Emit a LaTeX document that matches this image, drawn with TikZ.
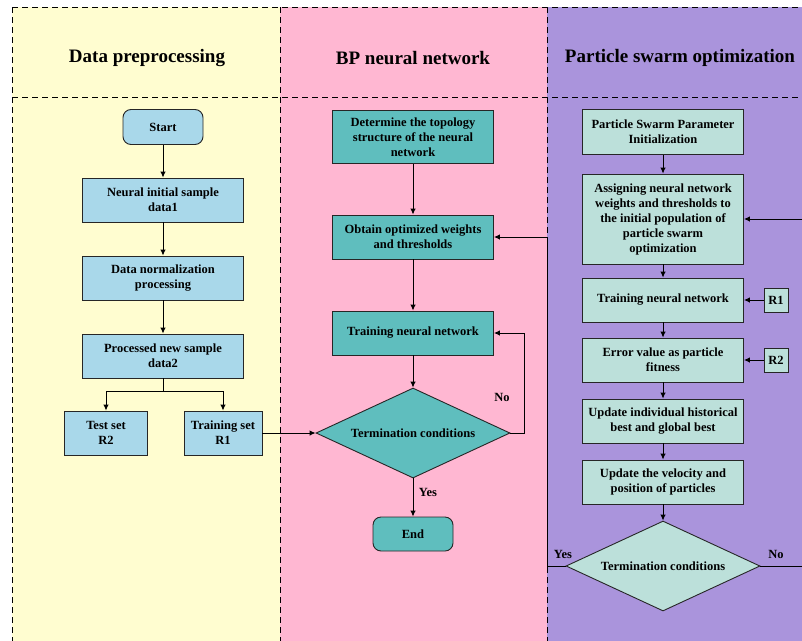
\documentclass[tikz,border=0pt]{standalone}
\usepackage{fontspec}
\setmainfont{Liberation Serif}
\usetikzlibrary{arrows.meta,shapes.geometric}
\definecolor{ybg}{HTML}{FFFDD0}
\definecolor{pbg}{HTML}{FFB7D2}
\definecolor{vbg}{HTML}{AA94DC}
\definecolor{bbox}{HTML}{A9D8EA}
\definecolor{tbox}{HTML}{5FBEBE}
\definecolor{lbox}{HTML}{BCE0DA}
\tikzset{
  lane/.style={draw=black, line width=0.9pt, dash pattern=on 6pt off 4pt},
  hdr/.style={font=\bfseries\fontsize{19}{22}\selectfont},
  fbox/.style={draw=black!85, line width=0.9pt, align=center, inner sep=0pt,
    font=\bfseries\fontsize{12.5}{15}\selectfont},
  bluebox/.style={fbox, fill=bbox},
  tealbox/.style={fbox, fill=tbox},
  ltbox/.style={fbox, fill=lbox},
  term/.style={rounded corners=8pt},
  dia/.style={fbox, diamond, aspect=2.15, minimum width=194pt, minimum height=90pt},
  lbl/.style={font=\bfseries\fontsize{12.5}{15}\selectfont, inner sep=0pt},
  arr/.style={draw=black, line width=0.9pt, -{Latex[length=6pt,width=5.5pt]}},
  ln/.style={draw=black, line width=0.9pt}
}
\begin{document}
\begin{tikzpicture}[x=1pt,y=-1pt]
\useasboundingbox (0,0) rectangle (802,640);
\clip (0,0) rectangle (802,640);
% lanes
\fill[ybg] (12,7) rectangle (280,700);
\fill[pbg] (280,7) rectangle (547,700);
\fill[vbg] (547,7) rectangle (830,700);
\draw[lane] (12,7) -- (830,7);
\draw[lane] (12,97) -- (830,97);
\draw[lane] (12,7) -- (12,700);
\draw[lane] (280,7) -- (280,700);
\draw[lane] (547,7) -- (547,700);
\node[hdr] (h1) at (147,58) {Data preprocessing};
\node[hdr] (h2) at (413,58) {BP neural network};
\node[hdr] (h3) at (680,58) {Particle swarm optimization};
% data preprocessing
\node[bluebox, term, minimum width=80pt, minimum height=35pt] (start) at (163,127) {Start};
\node[bluebox, minimum width=161pt, minimum height=44pt] (n1) at (163,200) {Neural initial sample\\data1};
\node[bluebox, minimum width=161pt, minimum height=44pt] (n2) at (163,278) {Data normalization\\processing};
\node[bluebox, minimum width=161pt, minimum height=44pt] (n3) at (163,356) {Processed new sample\\data2};
\node[bluebox, minimum width=83pt, minimum height=44pt] (test) at (106,433) {Test set\\R2};
\node[bluebox, minimum width=78pt, minimum height=44pt] (train) at (223,433) {Training set\\R1};
\coordinate (br) at (163,391);
% BP
\node[tealbox, minimum width=161pt, minimum height=53pt] (topo) at (413,137) {Determine the topology\\structure of the neural\\network};
\node[tealbox, minimum width=161pt, minimum height=44pt] (opt) at (413,237) {Obtain optimized weights\\and thresholds};
\node[tealbox, minimum width=161pt, minimum height=44pt] (tr) at (413,333) {Training neural network};
\node[dia, fill=tbox] (d1) at (413,433) {Termination conditions};
\node[tealbox, term, minimum width=80pt, minimum height=34pt] (end) at (413,534) {End};
% PSO
\node[ltbox, minimum width=161pt, minimum height=45pt] (p1) at (663,132) {Particle Swarm Parameter\\Initialization};
\node[ltbox, minimum width=161pt, minimum height=90pt] (p2) at (663,219) {Assigning neural network\\weights and thresholds to\\the initial population of\\particle swarm\\optimization};
\node[ltbox, minimum width=161pt, minimum height=44pt] (p3) at (663,300) {Training neural network};
\node[ltbox, minimum width=161pt, minimum height=44pt] (p4) at (663,360) {Error value as particle\\fitness};
\node[ltbox, minimum width=161pt, minimum height=44pt] (p5) at (663,421) {Update individual historical\\best and global best};
\node[ltbox, minimum width=161pt, minimum height=44pt] (p6) at (663,482) {Update the velocity and\\position of particles};
\node[dia, fill=lbox] (d2) at (663,566) {Termination conditions};
\node[ltbox, minimum width=24pt, minimum height=24pt] (r1) at (776,300) {R1};
\node[ltbox, minimum width=24pt, minimum height=24pt] (r2) at (776,360) {R2};
% connectors left
\draw[arr] (start) -- (n1);
\draw[arr] (n1) -- (n2);
\draw[arr] (n2) -- (n3);
\draw[ln] (n3.south) -- (br);
\draw[arr] (br) -| (test.north);
\draw[arr] (br) -| (train.north);
\draw[arr] (train.east) -- (d1.west);
% BP connectors
\draw[arr] (topo) -- (opt);
\draw[arr] (opt) -- (tr);
\draw[arr] (tr) -- (d1.north);
\coordinate (nob) at (524,433);
\draw[arr] (d1.east) -- (nob) |- (tr.east);
\node[lbl] (no1) at (502,397) {No};
\draw[arr] (d1.south) -- (end.north);
\node[lbl] (yes1) at (428,492) {Yes};
% PSO connectors
\draw[arr] (p1) -- (p2);
\draw[arr] (p2) -- (p3);
\draw[arr] (p3) -- (p4);
\draw[arr] (p4) -- (p5);
\draw[arr] (p5) -- (p6);
\draw[arr] (p6) -- (d2.north);
\draw[arr] (r1.west) -- (p3.east);
\draw[arr] (r2.west) -- (p4.east);
\coordinate (yb) at (547,566);
\draw[arr] (d2.west) -- (yb) |- (opt.east);
\node[lbl] (yes2) at (563,554) {Yes};
\coordinate (nb) at (815,566);
\draw[arr] (d2.east) -- (nb) |- (p2.east);
\node[lbl] (no2) at (776,554) {No};
\end{tikzpicture}
\end{document}
